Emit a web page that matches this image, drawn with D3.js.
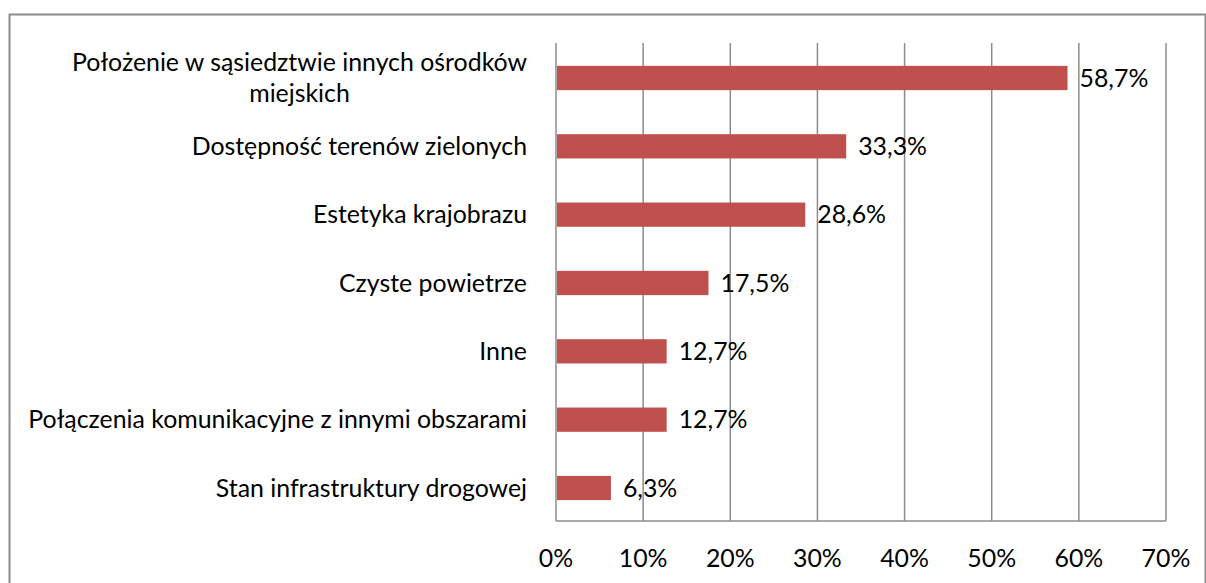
<!DOCTYPE html>
<html><head><meta charset="utf-8">
<script src="https://cdn.jsdelivr.net/npm/d3@7"></script>
<style>body{margin:0;background:#fff}</style>
</head><body>
<svg id="c" width="1206" height="583"></svg>
<script>
const categories = [
  ["Położenie w sąsiedztwie innych ośrodków","miejskich"],
  ["Dostępność terenów zielonych"],
  ["Estetyka krajobrazu"],
  ["Czyste powietrze"],
  ["Inne"],
  ["Połączenia komunikacyjne z innymi obszarami"],
  ["Stan infrastruktury drogowej"]
];
const values = [58.7, 33.3, 28.6, 17.5, 12.7, 12.7, 6.3];
const valueLabels = ["58,7%","33,3%","28,6%","17,5%","12,7%","12,7%","6,3%"];
const ticks = [0,10,20,30,40,50,60,70];
const tickLabels = ["0%","10%","20%","30%","40%","50%","60%","70%"];

const svg = d3.select("#c");
const FONT = "Lato, 'Open Sans', sans-serif";
const pL = 556, pR = 1166, pT = 43, pB = 521;
const grid = "#8c8c8c";

const probe = svg.append("text").style("font-family", FONT).style("font-size","20px")
  .text("Połączenia komunikacyjne z innymi obszarami");
const w = probe.node().getComputedTextLength();
probe.remove();
const fs = 20 * 499 / w;

svg.append("rect").attr("x",9.5).attr("y",14.5).attr("width",1196).attr("height",600)
  .attr("fill","none").attr("stroke",grid).attr("stroke-width",2);

const x = d3.scaleLinear().domain([0,70]).range([pL,pR]);
const y = d3.scaleBand().domain(d3.range(categories.length)).range([pT,pB]).paddingInner(0.645).paddingOuter(0.32);

svg.append("g").selectAll("line").data(ticks).join("line")
  .attr("x1",d=>x(d)).attr("x2",d=>x(d)).attr("y1",pT).attr("y2",pB)
  .attr("stroke",grid).attr("stroke-width",1.5);
svg.append("line").attr("x1",pL).attr("x2",pR).attr("y1",pB).attr("y2",pB)
  .attr("stroke",grid).attr("stroke-width",1.5);

svg.append("g").selectAll("rect").data(values).join("rect")
  .attr("x",x(0)+1).attr("y",(d,i)=>y(i)+1).attr("height",y.bandwidth())
  .attr("width",d=>x(d)-x(0)-1).attr("fill","#C0504D");

svg.append("g").selectAll("text").data(valueLabels).join("text")
  .attr("x",(d,i)=>x(values[i])+12).attr("y",(d,i)=>y(i)+y.bandwidth()/2+1)
  .attr("dy","0.35em").style("font-family",FONT).style("font-size",fs+"px").attr("fill","#000")
  .text(d=>d);

svg.append("g").selectAll("text").data(tickLabels).join("text")
  .attr("x",(d,i)=>x(ticks[i])).attr("y",558).attr("dy","0.35em").attr("text-anchor","middle")
  .style("font-family",FONT).style("font-size",fs+"px").text(d=>d);

const lh = 31;
categories.forEach((lines,i)=>{
  const cy = y(i)+y.bandwidth()/2+1;
  if (lines.length === 1) {
    svg.append("text").attr("x",527).attr("y",cy).attr("dy","0.35em").attr("text-anchor","end")
      .style("font-family",FONT).style("font-size",fs+"px").text(lines[0]);
  } else {
    const t = svg.append("text").attr("x",527).attr("y",cy-lh/2).attr("dy","0.35em").attr("text-anchor","end")
      .style("font-family",FONT).style("font-size",fs+"px").text(lines[0]);
    const w0 = t.node().getComputedTextLength();
    svg.append("text").attr("x",527-w0/2).attr("y",cy+lh/2).attr("dy","0.35em").attr("text-anchor","middle")
      .style("font-family",FONT).style("font-size",fs+"px").text(lines[1]);
  }
});
</script>
</body></html>
